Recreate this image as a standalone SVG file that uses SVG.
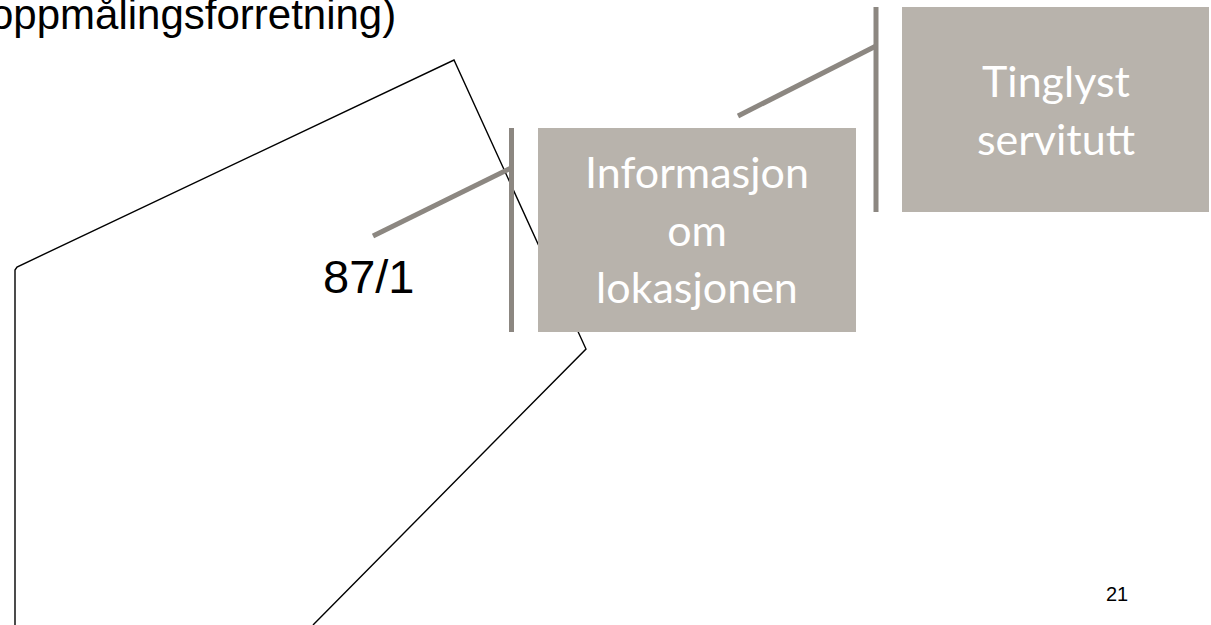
<svg xmlns="http://www.w3.org/2000/svg" width="1211" height="625" viewBox="0 0 1211 625">
<style>
.outline{fill:none;stroke:#000;stroke-width:1.4;stroke-linejoin:miter}
.box{fill:#b8b3ac}
.bar{stroke:#8c8781;stroke-width:5;fill:none}
.boxtext{font-family:Lato,"Open Sans",sans-serif;font-size:43px;fill:#fff;text-anchor:middle}
.plain{font-family:"Liberation Sans",Arial,sans-serif;fill:#000}
</style>
<rect width="1211" height="625" fill="#fff"/>
<text class="plain" x="-10" y="28.5" font-size="42">oppmålingsforretning)</text>
<g id="parcel">
<polyline class="outline" points="15,625 15,270 17,267 454,60 586,349 313,625"/>
<text class="plain" x="323" y="293" font-size="47">87/1</text>
</g>
<g id="connectors">
<line class="bar" x1="511.5" y1="128" x2="511.5" y2="332"/>
<line class="bar" x1="373" y1="236" x2="513" y2="167"/>
<line class="bar" x1="876" y1="7" x2="876" y2="212"/>
<line class="bar" x1="738" y1="116" x2="876" y2="46"/>
</g>
<g id="info">
<rect class="box" x="538" y="128" width="318" height="204"/>
<text class="boxtext" x="697" y="188">Informasjon</text>
<text class="boxtext" x="697" y="245.5">om</text>
<text class="boxtext" x="697" y="303">lokasjonen</text>
</g>
<g id="servitutt">
<rect class="box" x="902" y="7" width="307" height="205"/>
<text class="boxtext" x="1056" y="97">Tinglyst</text>
<text class="boxtext" x="1056" y="155">servitutt</text>
</g>
<text class="plain" x="1106" y="601" font-size="20">21</text>
</svg>
